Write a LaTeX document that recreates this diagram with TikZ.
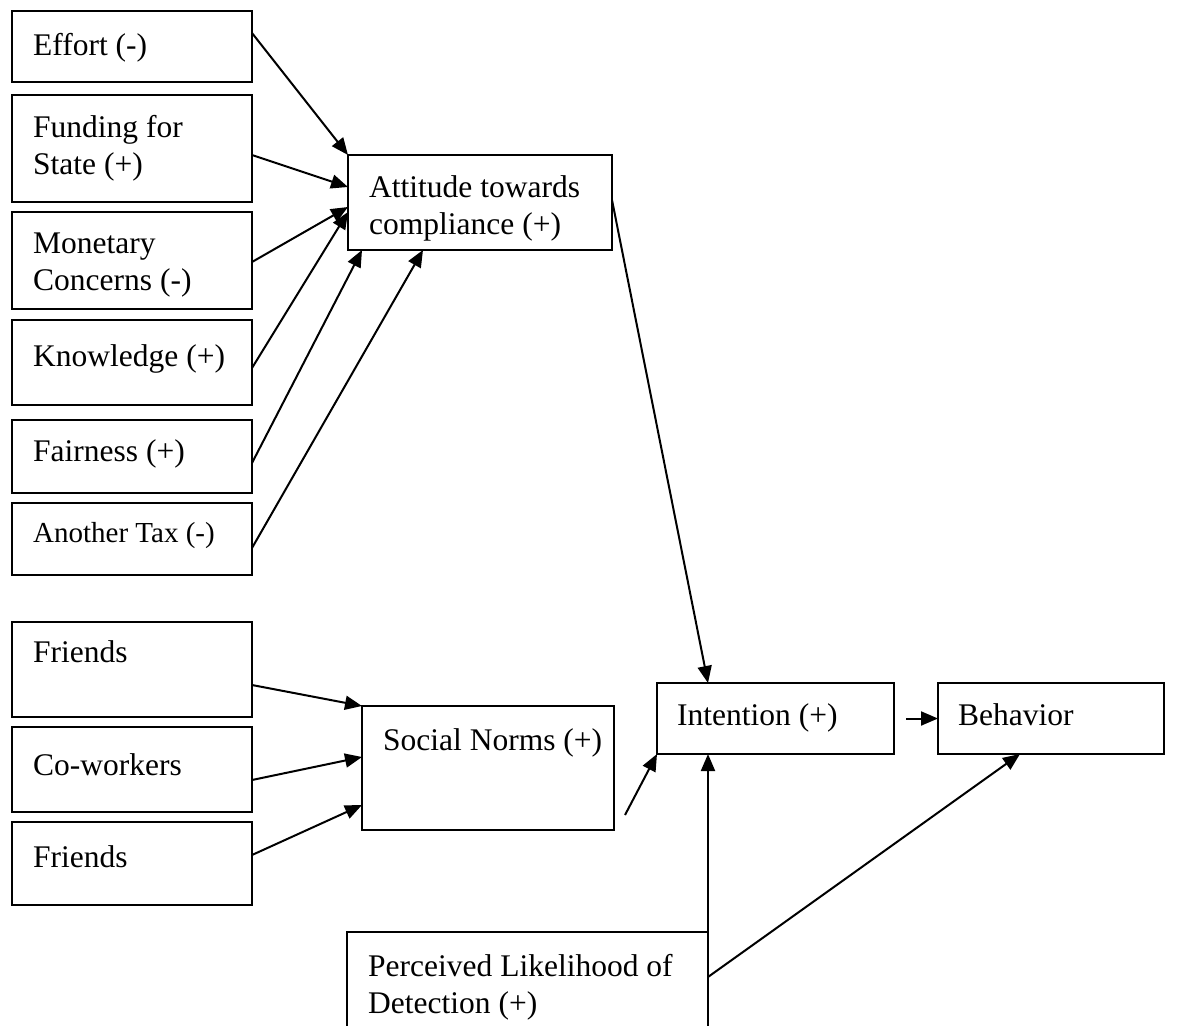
\documentclass[tikz,border=0pt]{standalone}
\usepackage{fontspec}
\setmainfont{Liberation Serif}
\usetikzlibrary{arrows.meta,calc}
\begin{document}
\begin{tikzpicture}[x=1pt,y=-1pt,
  box/.style={draw, line width=2.4pt, inner sep=0pt, outer sep=0pt, anchor=north west},
  txt/.style={anchor=north west, inner sep=0pt, align=left, font=\fontsize{31.5}{37}\selectfont},
  smalltxt/.style={txt, font=\fontsize{29}{34}\selectfont},
  arr/.style={line width=2pt, -{Triangle[length=17pt,width=14pt]}}]
\useasboundingbox (0,0) rectangle (1179,1026);
\clip (0,0) rectangle (1179,1026);
% left column
\node[box, minimum width=240, minimum height=71] (effort) at (12,11) {};
\node[box, minimum width=240, minimum height=107] (funding) at (12,95) {};
\node[box, minimum width=240, minimum height=97] (monetary) at (12,212) {};
\node[box, minimum width=240, minimum height=85] (knowledge) at (12,320) {};
\node[box, minimum width=240, minimum height=73] (fairness) at (12,420) {};
\node[box, minimum width=240, minimum height=72] (another) at (12,503) {};
\node[box, minimum width=240, minimum height=95] (friendsA) at (12,622) {};
\node[box, minimum width=240, minimum height=85] (coworkers) at (12,727) {};
\node[box, minimum width=240, minimum height=83] (friendsB) at (12,822) {};
% middle / right
\node[box, minimum width=264, minimum height=95] (attitude) at (348,155) {};
\node[box, minimum width=252, minimum height=124] (social) at (362,706) {};
\node[box, minimum width=237, minimum height=71] (intention) at (657,683) {};
\node[box, minimum width=226, minimum height=71] (behavior) at (938,683) {};
\node[box, minimum width=361, minimum height=130] (perceived) at (347,932) {};
% texts
\node[txt] (effortT) at ($(effort.north west)+(21,18)$) {\strut Effort (-)};
\node[txt] (fundingT) at ($(funding.north west)+(21,16)$) {\strut Funding for\\State (+)};
\node[txt] (monetaryT) at ($(monetary.north west)+(21,15)$) {\strut Monetary\\Concerns (-)};
\node[txt] (knowledgeT) at ($(knowledge.north west)+(21,20)$) {\strut Knowledge (+)};
\node[txt] (fairnessT) at ($(fairness.north west)+(21,15)$) {\strut Fairness (+)};
\node[smalltxt] (anotherT) at ($(another.north west)+(21,15)$) {\strut Another Tax (-)};
\node[txt] (friendsAT) at ($(friendsA.north west)+(21,14)$) {\strut Friends};
\node[txt] (coworkersT) at ($(coworkers.north west)+(21,22)$) {\strut Co-workers};
\node[txt] (friendsBT) at ($(friendsB.north west)+(21,19)$) {\strut Friends};
\node[txt] (attitudeT) at ($(attitude.north west)+(21,16)$) {\strut Attitude towards\\compliance (+)};
\node[txt] (socialT) at ($(social.north west)+(21,18)$) {\strut Social Norms (+)};
\node[txt] (intentionT) at ($(intention.north west)+(20,16)$) {\strut Intention (+)};
\node[txt] (behaviorT) at ($(behavior.north west)+(20,16)$) {\strut Behavior};
\node[txt] (perceivedT) at ($(perceived.north west)+(21,18)$) {\strut Perceived Likelihood of\\Detection (+)};
% connectors to attitude
\draw[arr] ($(effort.north east)+(0,22)$) -- (attitude.north west);
\draw[arr] ($(funding.north east)+(0,60)$) -- ($(attitude.north west)+(0,32)$);
\draw[arr] ($(monetary.north east)+(0,50)$) -- ($(attitude.north west)+(0,52)$);
\draw[arr] ($(knowledge.north east)+(0,48)$) -- ($(attitude.north west)+(0,57)$);
\draw[arr] ($(fairness.north east)+(0,43)$) -- ($(attitude.south west)+(14,0)$);
\draw[arr] ($(another.north east)+(0,45)$) -- ($(attitude.south west)+(75,0)$);
% attitude to intention
\draw[arr] ($(attitude.north east)+(0,45)$) -- ($(intention.north west)+(51,0)$);
% connectors to social norms
\draw[arr] ($(friendsA.north east)+(0,63)$) -- (social.north west);
\draw[arr] ($(coworkers.north east)+(0,53)$) -- ($(social.north west)+(0,51)$);
\draw[arr] ($(friendsB.north east)+(0,33)$) -- ($(social.north west)+(0,99)$);
% social norms (free end) to intention
\coordinate (snout) at ($(social.south east)+(11,-15)$);
\draw[arr] (snout) -- (intention.south west);
% intention to behavior
\draw[arr] ($(intention.east)+(12,0)$) -- (behavior.west);
% perceived to intention and behavior
\draw[arr] (perceived.north east) -- (intention.south -| perceived.north east);
\draw[arr] ($(perceived.north east)+(0,45)$) -- ($(behavior.south west)+(82,0)$);
\end{tikzpicture}
\end{document}
